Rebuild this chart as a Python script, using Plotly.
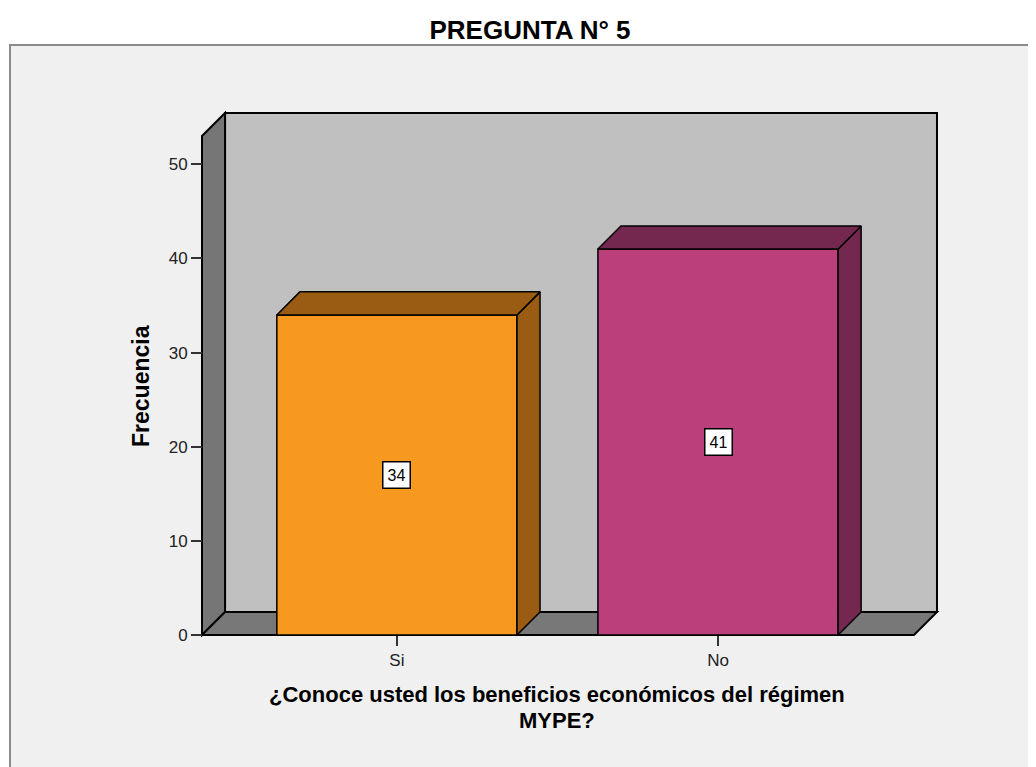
import plotly.graph_objects as go

# data
categories = ["Si", "No"]
frecuencias = [34, 41]
y_ticks = [0, 10, 20, 30, 40, 50]

title_text = "PREGUNTA N° 5"
x_title_lines = ["¿Conoce usted los beneficios económicos del régimen", "MYPE?"]
y_title = "Frecuencia"

front_colors = ["#F7991F", "#BA3F7B"]
dark_colors = ["#9A5C12", "#74274F"]

# 3D look (depth of the box in axis units)
BAR_W = 0.748
DX = 0.0717
DY = 2.45
AXIS_MAX = 53.0
X_LEFT = -0.607
X_RIGHT = 1.682
Y_TOP = AXIS_MAX + DY
PAD_X = 0.0125
PAD_Y = 0.42

# page has an 8px body margin
OFF = 8
W, H = 1036 - OFF, 767 - OFF
ML, MR, MT, MB = 190, 95, 101, 128
PW, PH = W - ML - MR, H - MT - MB
FONT = "Liberation Sans"


def px_x(p):
    return (p - OFF - ML) / PW


def px_y(p):
    return (H - MB - (p - OFF)) / PH


def path(pts):
    return "M " + " L ".join(f"{x},{y}" for x, y in pts) + " Z"


xs = list(range(len(categories)))

fig = go.Figure()

# front faces
fig.add_trace(go.Bar(
    x=xs, y=frecuencias, width=BAR_W,
    marker=dict(color=front_colors, line=dict(color="black", width=1.5)),
    hoverinfo="skip", showlegend=False,
))

# top and right faces
for i, v in enumerate(frecuencias):
    x0 = xs[i] - BAR_W / 2
    x1 = xs[i] + BAR_W / 2
    top = [(x0, v), (x0 + DX, v + DY), (x1 + DX, v + DY), (x1, v), (x0, v)]
    side = [(x1, 0), (x1, v), (x1 + DX, v + DY), (x1 + DX, DY), (x1, 0)]
    for poly in (side, top):
        fig.add_trace(go.Scatter(
            x=[p[0] for p in poly], y=[p[1] for p in poly],
            mode="lines", fill="toself", fillcolor=dark_colors[i],
            line=dict(color="black", width=1.5),
            hoverinfo="skip", showlegend=False,
        ))

# frame + walls
shapes = [
    dict(type="rect", xref="paper", yref="paper", layer="below",
         x0=px_x(10), x1=px_x(1050), y0=px_y(790), y1=px_y(45),
         fillcolor="#F0F0F0", line=dict(color="#8A8A8A", width=2)),
    dict(type="path", layer="below",
         path=path([(X_LEFT + DX, DY), (X_LEFT + DX, Y_TOP), (X_RIGHT, Y_TOP), (X_RIGHT, DY)]),
         fillcolor="#C0C0C0", line=dict(color="black", width=2)),
    dict(type="path", layer="below",
         path=path([(X_LEFT, 0), (X_LEFT, AXIS_MAX), (X_LEFT + DX, Y_TOP), (X_LEFT + DX, DY)]),
         fillcolor="#767676", line=dict(color="black", width=2)),
    dict(type="path", layer="below",
         path=path([(X_LEFT, 0), (X_LEFT + DX, DY), (X_RIGHT, DY), (X_RIGHT - DX, 0)]),
         fillcolor="#787878", line=dict(color="black", width=2)),
]

annotations = []
for i, v in enumerate(frecuencias):
    annotations.append(dict(
        x=xs[i], y=v / 2, text=str(v), showarrow=False,
        font=dict(family=FONT, size=16, color="black"),
        bgcolor="white", bordercolor="black", borderwidth=1.5, borderpad=4,
    ))

annotations.append(dict(
    xref="paper", yref="paper", x=px_x(141), y=px_y(386), text=f"<b>{y_title}</b>",
    textangle=-90, showarrow=False, xanchor="center", yanchor="middle",
    font=dict(family=FONT, size=23, color="black"),
))
for line, yc in zip(x_title_lines, [694, 720]):
    annotations.append(dict(
        xref="paper", yref="paper", x=px_x(557), y=px_y(yc), text=f"<b>{line}</b>",
        showarrow=False, font=dict(family=FONT, size=22, color="black"),
        xanchor="center", yanchor="middle",
    ))

fig.update_layout(
    width=W, height=H, autosize=False,
    margin=dict(l=ML, r=MR, t=MT, b=MB),
    paper_bgcolor="white", plot_bgcolor="rgba(0,0,0,0)",
    title=dict(text=f"<b>{title_text}</b>", x=(530 - OFF) / W, xanchor="center",
               y=1 - (30 - OFF) / H, yanchor="middle", yref="container",
               font=dict(family=FONT, size=26, color="black")),
    shapes=shapes, annotations=annotations, showlegend=False,
    font=dict(family=FONT, color="#222"),
)

fig.update_xaxes(
    range=[X_LEFT - PAD_X, X_RIGHT + PAD_X], tickvals=xs, ticktext=categories,
    ticks="outside", ticklen=10, tickwidth=1.5, tickcolor="#333",
    anchor="free", position=PAD_Y / (Y_TOP + 2 * PAD_Y),
    showgrid=False, zeroline=False, showline=False,
    tickfont=dict(size=17, color="#222"),
)
fig.update_yaxes(
    range=[-PAD_Y, Y_TOP + PAD_Y], tickvals=y_ticks,
    ticks="outside", ticklen=11, tickwidth=1.5, tickcolor="#333",
    anchor="free", position=PAD_X / (X_RIGHT - X_LEFT + 2 * PAD_X),
    showgrid=False, zeroline=False, showline=False,
    tickfont=dict(size=17, color="#222"),
)

fig.write_html("out.html")
